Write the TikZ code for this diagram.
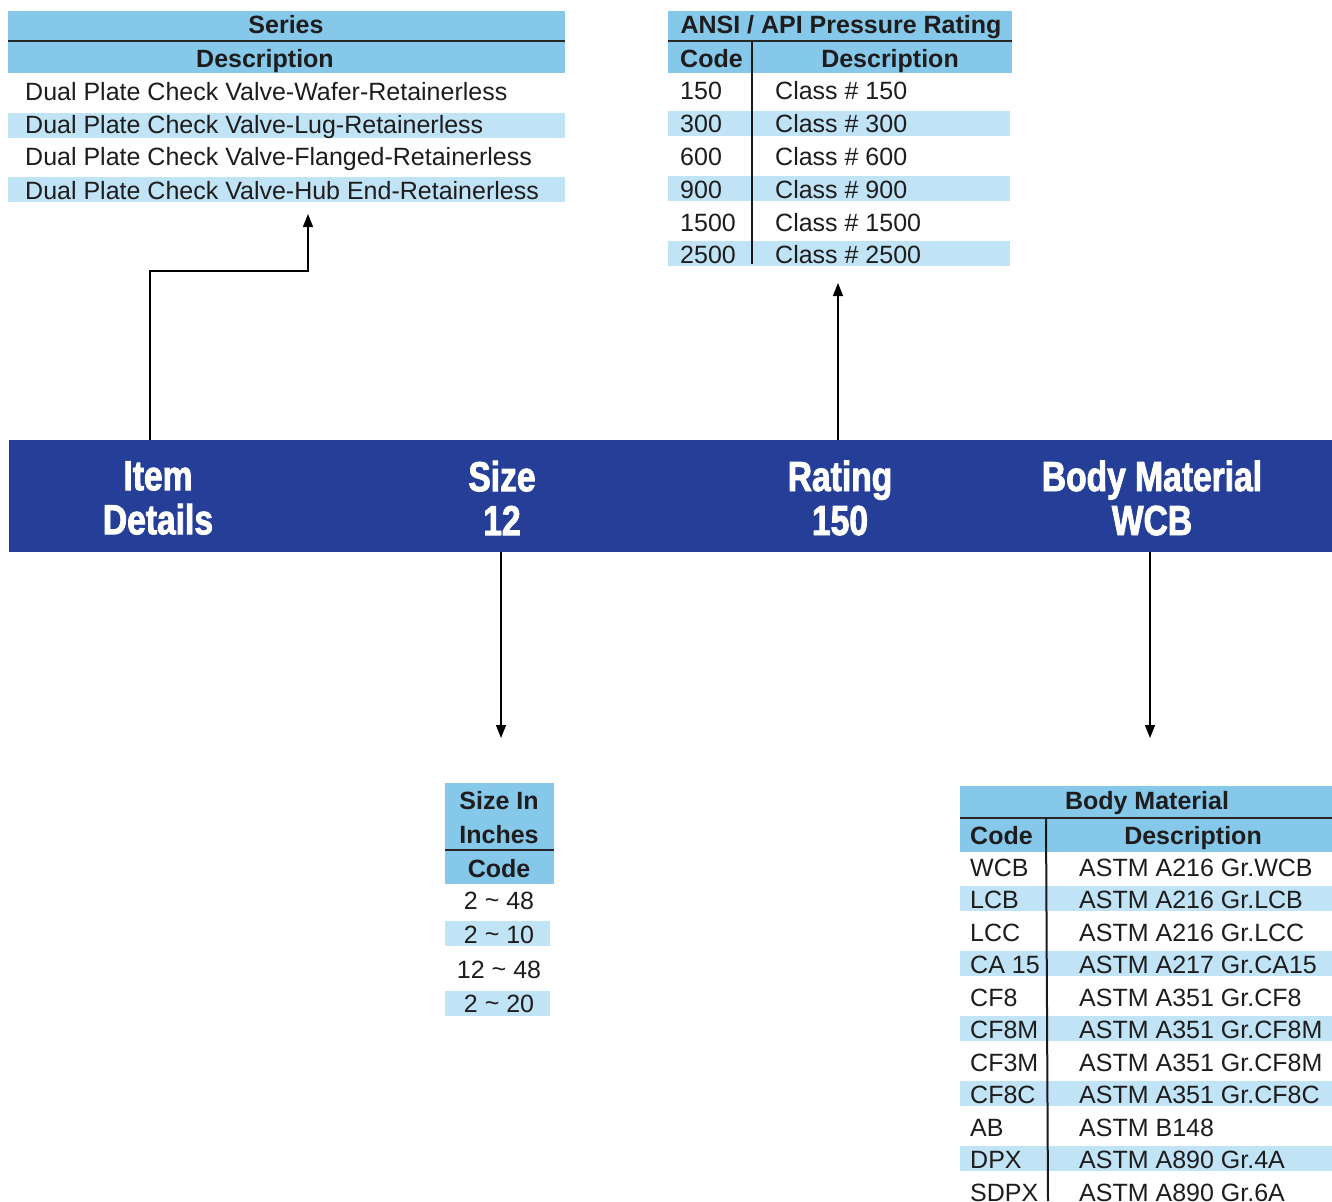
\documentclass[tikz,border=0pt]{standalone}
\usepackage{fontspec}
\setmainfont{Liberation Sans}
\newfontfamily\bandfont{Liberation Sans}[FakeStretch=0.8,FakeBold=2]
\usetikzlibrary{arrows.meta}
\definecolor{navy}{HTML}{253F99}
\definecolor{hdrblue}{HTML}{86C8E9}
\definecolor{rowblue}{HTML}{C0E3F5}
\definecolor{textdark}{HTML}{1E1C1D}
\tikzset{
  txt/.style={font=\fontsize{25}{30}\selectfont, text=textdark, inner sep=0pt, anchor=base west},
  txtc/.style={txt, anchor=base},
  hdr/.style={txt, anchor=base, font=\fontsize{25}{30}\selectfont\bfseries},
  hdrl/.style={txt, font=\fontsize{25}{30}\selectfont\bfseries},
  bandtxt/.style={text=white, inner sep=0pt, align=center, font=\bandfont\bfseries\fontsize{42}{46}\selectfont},
  arr/.style={draw=black, line width=1.4pt, -{Triangle[length=13pt,width=10pt]}},
  rule/.style={draw=black!85, line width=2.2pt},
  vrule/.style={draw=black!90, line width=2pt}
}
\begin{document}
\begin{tikzpicture}[x=1pt,y=-1pt]
\useasboundingbox (0,0) rectangle (1332,1201);

% ---------- Series table ----------
\fill[hdrblue] (8,11) rectangle (565,73);
\draw[rule] (8,41) -- (565,41);
\fill[rowblue] (8,113) rectangle (565,138);
\fill[rowblue] (8,177) rectangle (565,202);
\node[hdr] (serh) at (286,34) {Series};
\node[hdr] (serd) at (265,68) {Description};
\node[txt] (ser1) at (25,101) {Dual Plate Check Valve-Wafer-Retainerless};
\node[txt] (ser2) at (25,134) {Dual Plate Check Valve-Lug-Retainerless};
\node[txt] (ser3) at (25,166) {Dual Plate Check Valve-Flanged-Retainerless};
\node[txt] (ser4) at (25,199) {Dual Plate Check Valve-Hub End-Retainerless};
\coordinate (seriesin) at (308,214);

% ---------- ANSI table ----------
\fill[hdrblue] (668,11) rectangle (1012,73);
\draw[rule] (668,41) -- (1012,41);
\foreach \y in {111,176,241} \fill[rowblue] (668,\y) rectangle (1010,\y+25);
\draw[vrule] (752,42) -- (752,264);
\node[hdr] (ansih) at (841,34) {ANSI / API Pressure Rating};
\node[hdrl] (ansic) at (680,68) {Code};
\node[hdr] (ansid) at (890,68) {Description};
\foreach \c/\y [count=\i] in {150/100,300/133,600/166,900/198,1500/231,2500/263}{
  \node[txt] (ac\i) at (680,\y) {\c};
  \node[txt] (ad\i) at (775,\y) {Class \# \c};
}
\coordinate (ratingin) at (838,283);

% ---------- Band ----------
\node[fill=navy, minimum width=1323pt, minimum height=112pt, anchor=north west, inner sep=0pt] (band) at (9,440) {};
\node[bandtxt] (item) at (158,498) {Item\\[-2pt]Details};
\node[bandtxt] (size) at (502,498) {Size\\[-2pt]12};
\node[bandtxt] (rating) at (840,498) {Rating\\[-2pt]150};
\node[bandtxt] (body) at (1152,498) {Body Material\\[-2pt]WCB};
\coordinate (itemout) at (150,440);
\coordinate (ratingout) at (838,440);
\coordinate (sizeout) at (501,552);
\coordinate (bodyout) at (1150,552);

% ---------- Size table ----------
\fill[hdrblue] (445,783) rectangle (554,884);
\draw[rule] (445,850) -- (554,850);
\fill[rowblue] (445,921) rectangle (550,946);
\fill[rowblue] (445,991) rectangle (550,1016);
\node[hdr] (sizeh1) at (499,809) {Size In};
\node[hdr] (sizeh2) at (499,843) {Inches};
\node[hdr] (sizeh3) at (499,877) {Code};
\node[txtc] (sz1) at (499,909) {2 \raisebox{1pt}{\~{}} 48};
\node[txtc] (sz2) at (499,943) {2 \raisebox{1pt}{\~{}} 10};
\node[txtc] (sz3) at (499,978) {12 \raisebox{1pt}{\~{}} 48};
\node[txtc] (sz4) at (499,1012) {2 \raisebox{1pt}{\~{}} 20};
\coordinate (sizein) at (501,738);

% ---------- Body material table ----------
\fill[hdrblue] (960,786) rectangle (1332,852);
\draw[rule] (960,818) -- (1332,818);
\foreach \k in {1,3,5,7,9} \fill[rowblue] (960,886+32.5*\k-32.5) rectangle (1332,911+32.5*\k-32.5);
\draw[vrule] (1046,819) -- (1048,1201);
\node[hdr] (bmh) at (1147,809) {Body Material};
\node[hdrl] (bmc) at (970,844) {Code};
\node[hdr] (bmd) at (1193,844) {Description};
\foreach \c/\d [count=\i] in {WCB/ASTM A216 Gr.WCB, LCB/ASTM A216 Gr.LCB, LCC/ASTM A216 Gr.LCC, CA 15/ASTM A217 Gr.CA15, CF8/ASTM A351 Gr.CF8, CF8M/ASTM A351 Gr.CF8M, CF3M/ASTM A351 Gr.CF8M, CF8C/ASTM A351 Gr.CF8C, AB/ASTM B148, DPX/ASTM A890 Gr.4A, SDPX/ASTM A890 Gr.6A}{
  \node[txt] (bc\i) at (970,876+32.5*\i-32.5) {\c};
  \node[txt] (bd\i) at (1079,876+32.5*\i-32.5) {\d};
}
\coordinate (bodyin) at (1150,738);

% ---------- Connectors ----------
\draw[arr] (itemout) -- ++(0,-169) -| (seriesin);
\draw[arr] (ratingout) -- (ratingin);
\draw[arr] (sizeout) -- (sizein);
\draw[arr] (bodyout) -- (bodyin);
\end{tikzpicture}
\end{document}
